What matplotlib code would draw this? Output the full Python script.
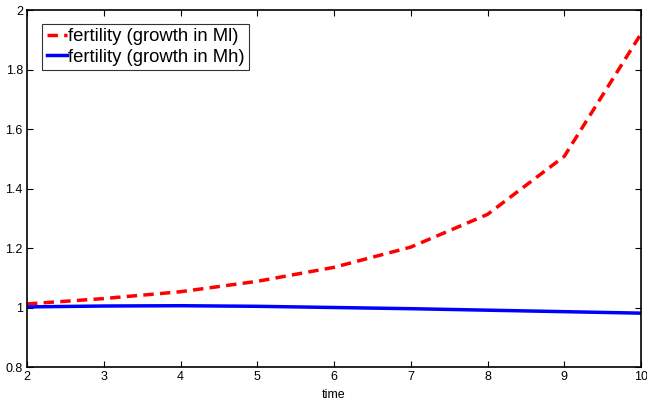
import matplotlib
matplotlib.use("Agg")
import matplotlib.pyplot as plt

plt.rcParams['font.family'] = ['Liberation Sans', 'DejaVu Sans']

time = [2, 3, 4, 5, 6, 7, 8, 9, 10]
fert_ml = [1.012, 1.030, 1.053, 1.088, 1.135, 1.203, 1.313, 1.508, 1.920]
fert_mh = [1.002, 1.005, 1.006, 1.004, 1.000, 0.996, 0.991, 0.986, 0.981]

fig = plt.figure(figsize=(6.47, 4.05), dpi=100)
ax = fig.add_axes([27/647, 1 - 367/405, (641-27)/647, (367-10)/405])

ax.plot(time, fert_ml, color='#ff0000', linestyle='--', linewidth=2.5, dashes=(3, 1.8),
        label='fertility (growth in Ml)')
ax.plot(time, fert_mh, color='#0000ff', linestyle='-', linewidth=2.5,
        label='fertility (growth in Mh)')

ax.set_xlim(2, 10)
ax.set_ylim(0.8, 2.0)
ax.set_xticks([2, 3, 4, 5, 6, 7, 8, 9, 10])
ax.set_yticks([0.8, 1.0, 1.2, 1.4, 1.6, 1.8, 2.0])
ax.set_yticklabels(['0.8', '1', '1.2', '1.4', '1.6', '1.8', '2'])
ax.tick_params(direction='in', top=True, right=True, labelsize=9, length=4, width=0.8, pad=3)
for s in ax.spines.values():
    s.set_linewidth(1.2)
ax.set_xlabel('time', fontsize=9, labelpad=4)

leg = ax.legend(loc='upper left', bbox_to_anchor=(0.025, 0.962), fontsize=13.3,
                frameon=True, fancybox=False, edgecolor='black', handlelength=1.1,
                handletextpad=0.05, borderpad=0.25, labelspacing=0.2, borderaxespad=0)
leg.get_frame().set_linewidth(0.8)

fig.savefig('out.png', dpi=100)
